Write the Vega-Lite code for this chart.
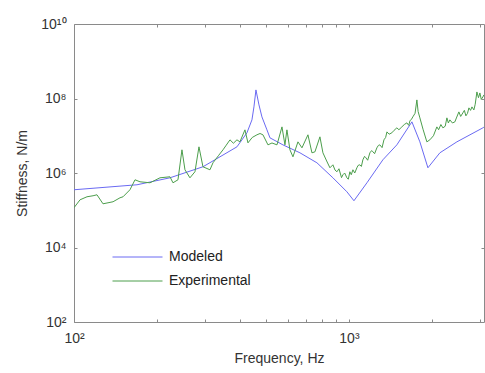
{
  "$schema": "https://vega.github.io/schema/vega-lite/v6.json",
  "autosize": "none",
  "width": 410,
  "height": 298,
  "padding": {"left": 74, "top": 24, "right": 1, "bottom": 51},
  "background": "white",
  "config": {
    "view": {"stroke": "#8a8a8a", "strokeWidth": 1},
    "font": "Liberation Sans",
    "axis": {"grid": false, "domain": false, "tickColor": "#8a8a8a", "labelColor": "#333", "titleColor": "#333", "labelFontSize": 14, "titleFontSize": 14, "titleFontWeight": "normal", "labelFont": "Liberation Sans", "titleFont": "Liberation Sans"}
  },
  "data": {"values": [
    {"series": "Modeled", "freq": 100, "stiffness": 355000},
    {"series": "Modeled", "freq": 169.5, "stiffness": 483000},
    {"series": "Modeled", "freq": 223.4, "stiffness": 743000},
    {"series": "Modeled", "freq": 294.5, "stiffness": 1470000},
    {"series": "Modeled", "freq": 339.6, "stiffness": 2720000},
    {"series": "Modeled", "freq": 391.5, "stiffness": 5040000},
    {"series": "Modeled", "freq": 425.7, "stiffness": 12000000},
    {"series": "Modeled", "freq": 443.9, "stiffness": 26700000},
    {"series": "Modeled", "freq": 451.4, "stiffness": 59500000},
    {"series": "Modeled", "freq": 459.0, "stiffness": 170000000},
    {"series": "Modeled", "freq": 470.8, "stiffness": 67300000},
    {"series": "Modeled", "freq": 482.6, "stiffness": 32100000},
    {"series": "Modeled", "freq": 503.3, "stiffness": 14400000},
    {"series": "Modeled", "freq": 516.2, "stiffness": 8790000},
    {"series": "Modeled", "freq": 575.4, "stiffness": 5700000},
    {"series": "Modeled", "freq": 663.6, "stiffness": 3480000},
    {"series": "Modeled", "freq": 764.9, "stiffness": 1880000},
    {"series": "Modeled", "freq": 874.6, "stiffness": 743000},
    {"series": "Modeled", "freq": 983.3, "stiffness": 313000},
    {"series": "Modeled", "freq": 1043, "stiffness": 180000},
    {"series": "Modeled", "freq": 1163, "stiffness": 546000},
    {"series": "Modeled", "freq": 1329, "stiffness": 2260000},
    {"series": "Modeled", "freq": 1494, "stiffness": 5700000},
    {"series": "Modeled", "freq": 1695, "stiffness": 23600000},
    {"series": "Modeled", "freq": 1812, "stiffness": 6860000},
    {"series": "Modeled", "freq": 1938, "stiffness": 1380000},
    {"series": "Modeled", "freq": 2142, "stiffness": 3480000},
    {"series": "Modeled", "freq": 2470, "stiffness": 6860000},
    {"series": "Modeled", "freq": 3071, "stiffness": 16300000},
    {"series": "Modeled", "freq": 3097, "stiffness": 17000000},
    {"series": "Experimental", "freq": 100, "stiffness": 117000},
    {"series": "Experimental", "freq": 105.2, "stiffness": 191000},
    {"series": "Experimental", "freq": 111.5, "stiffness": 230000},
    {"series": "Experimental", "freq": 117.3, "stiffness": 245000},
    {"series": "Experimental", "freq": 121.2, "stiffness": 260000},
    {"series": "Experimental", "freq": 127.5, "stiffness": 149000},
    {"series": "Experimental", "freq": 138.7, "stiffness": 169000},
    {"series": "Experimental", "freq": 147.0, "stiffness": 216000},
    {"series": "Experimental", "freq": 150.8, "stiffness": 230000},
    {"series": "Experimental", "freq": 159.8, "stiffness": 355000},
    {"series": "Experimental", "freq": 166.7, "stiffness": 657000},
    {"series": "Experimental", "freq": 173.8, "stiffness": 581000},
    {"series": "Experimental", "freq": 189.0, "stiffness": 546000},
    {"series": "Experimental", "freq": 205.5, "stiffness": 743000},
    {"series": "Experimental", "freq": 223.4, "stiffness": 791000},
    {"series": "Experimental", "freq": 229.1, "stiffness": 546000},
    {"series": "Experimental", "freq": 238.9, "stiffness": 657000},
    {"series": "Experimental", "freq": 247.0, "stiffness": 4190000},
    {"series": "Experimental", "freq": 253.3, "stiffness": 1220000},
    {"series": "Experimental", "freq": 264.1, "stiffness": 743000},
    {"series": "Experimental", "freq": 275.4, "stiffness": 1080000},
    {"series": "Experimental", "freq": 284.8, "stiffness": 5040000},
    {"series": "Experimental", "freq": 294.5, "stiffness": 1470000},
    {"series": "Experimental", "freq": 312.3, "stiffness": 1220000},
    {"series": "Experimental", "freq": 320.3, "stiffness": 1880000},
    {"series": "Experimental", "freq": 335.0, "stiffness": 2900000},
    {"series": "Experimental", "freq": 348.3, "stiffness": 4190000},
    {"series": "Experimental", "freq": 358.0, "stiffness": 5600000},
    {"series": "Experimental", "freq": 369.3, "stiffness": 7770000},
    {"series": "Experimental", "freq": 380.0, "stiffness": 6300000},
    {"series": "Experimental", "freq": 391.5, "stiffness": 7770000},
    {"series": "Experimental", "freq": 401.4, "stiffness": 6860000},
    {"series": "Experimental", "freq": 418.6, "stiffness": 14400000},
    {"series": "Experimental", "freq": 429.3, "stiffness": 6450000},
    {"series": "Experimental", "freq": 445.0, "stiffness": 9000000},
    {"series": "Experimental", "freq": 462.9, "stiffness": 10600000},
    {"series": "Experimental", "freq": 475.0, "stiffness": 11500000},
    {"series": "Experimental", "freq": 486.7, "stiffness": 10600000},
    {"series": "Experimental", "freq": 507.6, "stiffness": 5700000},
    {"series": "Experimental", "freq": 525.0, "stiffness": 6400000},
    {"series": "Experimental", "freq": 547.4, "stiffness": 5700000},
    {"series": "Experimental", "freq": 570.8, "stiffness": 17300000},
    {"series": "Experimental", "freq": 585.2, "stiffness": 5700000},
    {"series": "Experimental", "freq": 595.0, "stiffness": 14400000},
    {"series": "Experimental", "freq": 610.2, "stiffness": 4190000},
    {"series": "Experimental", "freq": 625.8, "stiffness": 2720000},
    {"series": "Experimental", "freq": 652.5, "stiffness": 6860000},
    {"series": "Experimental", "freq": 674.8, "stiffness": 4740000},
    {"series": "Experimental", "freq": 709.5, "stiffness": 10600000},
    {"series": "Experimental", "freq": 733.7, "stiffness": 3480000},
    {"series": "Experimental", "freq": 752.3, "stiffness": 3700000},
    {"series": "Experimental", "freq": 784.4, "stiffness": 9350000},
    {"series": "Experimental", "freq": 804.4, "stiffness": 3480000},
    {"series": "Experimental", "freq": 830.0, "stiffness": 2100000},
    {"series": "Experimental", "freq": 853.0, "stiffness": 1380000},
    {"series": "Experimental", "freq": 874.6, "stiffness": 1660000},
    {"series": "Experimental", "freq": 890.0, "stiffness": 1200000},
    {"series": "Experimental", "freq": 904.5, "stiffness": 1080000},
    {"series": "Experimental", "freq": 920.0, "stiffness": 1300000},
    {"series": "Experimental", "freq": 940.0, "stiffness": 750000},
    {"series": "Experimental", "freq": 951.0, "stiffness": 895000},
    {"series": "Experimental", "freq": 965.0, "stiffness": 1000000},
    {"series": "Experimental", "freq": 983.3, "stiffness": 743000},
    {"series": "Experimental", "freq": 995.0, "stiffness": 680000},
    {"series": "Experimental", "freq": 1008, "stiffness": 1080000},
    {"series": "Experimental", "freq": 1020, "stiffness": 900000},
    {"series": "Experimental", "freq": 1034, "stiffness": 1220000},
    {"series": "Experimental", "freq": 1050, "stiffness": 1000000},
    {"series": "Experimental", "freq": 1069, "stiffness": 1380000},
    {"series": "Experimental", "freq": 1080, "stiffness": 1600000},
    {"series": "Experimental", "freq": 1096, "stiffness": 1660000},
    {"series": "Experimental", "freq": 1110, "stiffness": 1500000},
    {"series": "Experimental", "freq": 1124, "stiffness": 2260000},
    {"series": "Experimental", "freq": 1140, "stiffness": 2800000},
    {"series": "Experimental", "freq": 1153, "stiffness": 2560000},
    {"series": "Experimental", "freq": 1170, "stiffness": 2200000},
    {"series": "Experimental", "freq": 1192, "stiffness": 3480000},
    {"series": "Experimental", "freq": 1210, "stiffness": 4000000},
    {"series": "Experimental", "freq": 1223, "stiffness": 3700000},
    {"series": "Experimental", "freq": 1240, "stiffness": 3300000},
    {"series": "Experimental", "freq": 1264, "stiffness": 4740000},
    {"series": "Experimental", "freq": 1280, "stiffness": 5500000},
    {"series": "Experimental", "freq": 1296, "stiffness": 5700000},
    {"series": "Experimental", "freq": 1320, "stiffness": 4800000},
    {"series": "Experimental", "freq": 1341, "stiffness": 7770000},
    {"series": "Experimental", "freq": 1360, "stiffness": 9000000},
    {"series": "Experimental", "freq": 1375, "stiffness": 12700000},
    {"series": "Experimental", "freq": 1400, "stiffness": 11000000},
    {"series": "Experimental", "freq": 1433, "stiffness": 12000000},
    {"series": "Experimental", "freq": 1460, "stiffness": 14000000},
    {"series": "Experimental", "freq": 1494, "stiffness": 16300000},
    {"series": "Experimental", "freq": 1520, "stiffness": 14500000},
    {"series": "Experimental", "freq": 1558, "stiffness": 17300000},
    {"series": "Experimental", "freq": 1590, "stiffness": 20000000},
    {"series": "Experimental", "freq": 1625, "stiffness": 22200000},
    {"series": "Experimental", "freq": 1650, "stiffness": 19000000},
    {"series": "Experimental", "freq": 1667, "stiffness": 25100000},
    {"series": "Experimental", "freq": 1690, "stiffness": 28000000},
    {"series": "Experimental", "freq": 1708, "stiffness": 32100000},
    {"series": "Experimental", "freq": 1740, "stiffness": 40000000},
    {"series": "Experimental", "freq": 1767, "stiffness": 91600000},
    {"series": "Experimental", "freq": 1785, "stiffness": 45000000},
    {"series": "Experimental", "freq": 1812, "stiffness": 30200000},
    {"series": "Experimental", "freq": 1860, "stiffness": 15000000},
    {"series": "Experimental", "freq": 1921, "stiffness": 6860000},
    {"series": "Experimental", "freq": 1970, "stiffness": 7770000},
    {"series": "Experimental", "freq": 2030, "stiffness": 10000000},
    {"series": "Experimental", "freq": 2089, "stiffness": 17300000},
    {"series": "Experimental", "freq": 2120, "stiffness": 14500000},
    {"series": "Experimental", "freq": 2160, "stiffness": 20000000},
    {"series": "Experimental", "freq": 2197, "stiffness": 16300000},
    {"series": "Experimental", "freq": 2240, "stiffness": 18000000},
    {"series": "Experimental", "freq": 2272, "stiffness": 30200000},
    {"series": "Experimental", "freq": 2300, "stiffness": 22000000},
    {"series": "Experimental", "freq": 2329, "stiffness": 26700000},
    {"series": "Experimental", "freq": 2380, "stiffness": 22000000},
    {"series": "Experimental", "freq": 2429, "stiffness": 23600000},
    {"series": "Experimental", "freq": 2460, "stiffness": 30000000},
    {"series": "Experimental", "freq": 2512, "stiffness": 43700000},
    {"series": "Experimental", "freq": 2550, "stiffness": 33000000},
    {"series": "Experimental", "freq": 2597, "stiffness": 41100000},
    {"series": "Experimental", "freq": 2630, "stiffness": 48000000},
    {"series": "Experimental", "freq": 2664, "stiffness": 34200000},
    {"series": "Experimental", "freq": 2700, "stiffness": 40000000},
    {"series": "Experimental", "freq": 2732, "stiffness": 56000000},
    {"series": "Experimental", "freq": 2770, "stiffness": 48000000},
    {"series": "Experimental", "freq": 2802, "stiffness": 59500000},
    {"series": "Experimental", "freq": 2848, "stiffness": 49400000},
    {"series": "Experimental", "freq": 2880, "stiffness": 70000000},
    {"series": "Experimental", "freq": 2921, "stiffness": 150000000},
    {"series": "Experimental", "freq": 2960, "stiffness": 105000000},
    {"series": "Experimental", "freq": 2995, "stiffness": 141000000},
    {"series": "Experimental", "freq": 3030, "stiffness": 95000000},
    {"series": "Experimental", "freq": 3071, "stiffness": 110000000},
    {"series": "Experimental", "freq": 3097, "stiffness": 125000000}
  ]},
  "resolve": {"axis": {"x": "independent", "y": "independent"}},
  "layer": [
    {
      "mark": {"type": "line", "strokeWidth": 1, "clip": true},
      "encoding": {
        "x": {"field": "freq", "type": "quantitative",
          "scale": {"type": "log", "domain": [100, 3100], "nice": false, "zero": false},
          "axis": {"orient": "bottom", "title": "Frequency, Hz", "values": [100, 200, 300, 400, 500, 600, 700, 800, 900, 1000, 2000, 3000],
            "labelExpr": "datum.value == 100 ? '10²' : datum.value == 1000 ? '10³' : ''",
            "tickSize": -3, "labelPadding": 12, "titlePadding": 6, "labelFlush": false, "labelOverlap": false}},
        "y": {"field": "stiffness", "type": "quantitative",
          "scale": {"type": "log", "domain": [100, 10000000000], "nice": false, "zero": false},
          "axis": {"orient": "left", "title": "Stiffness, N/m", "values": [100, 10000, 1000000, 100000000, 10000000000],
            "labelExpr": "datum.value == 100 ? '10²' : datum.value == 10000 ? '10⁴' : datum.value == 1000000 ? '10⁶' : datum.value == 100000000 ? '10⁸' : '10¹⁰'",
            "tickSize": -3, "labelPadding": 11, "titlePadding": 11, "labelFlush": false, "labelOverlap": false}},
        "color": {"field": "series", "type": "nominal",
          "scale": {"domain": ["Modeled", "Experimental"], "range": ["#6a6af2", "#4c9e4c"]},
          "legend": {"title": null, "orient": "none", "legendX": 38, "legendY": 225, "symbolType": "stroke", "symbolSize": 2500, "symbolStrokeWidth": 1, "labelFontSize": 14, "labelColor": "#222", "labelOffset": 6, "clipHeight": 16, "rowPadding": 8, "labelFont": "Liberation Sans"}}
      }
    },
    {
      "mark": {"type": "line", "strokeOpacity": 0},
      "encoding": {
        "x": {"field": "freq", "type": "quantitative",
          "scale": {"type": "log", "domain": [100, 3100], "nice": false, "zero": false},
          "axis": {"orient": "top", "title": null, "labels": false, "values": [200, 300, 400, 500, 600, 700, 800, 900, 1000, 2000, 3000], "tickSize": -3}},
        "y": {"field": "stiffness", "type": "quantitative",
          "scale": {"type": "log", "domain": [100, 10000000000], "nice": false, "zero": false},
          "axis": {"orient": "right", "title": null, "labels": false, "values": [10000, 1000000, 100000000], "tickSize": -3}},
        "detail": {"field": "series"}
      }
    }
  ]
}
